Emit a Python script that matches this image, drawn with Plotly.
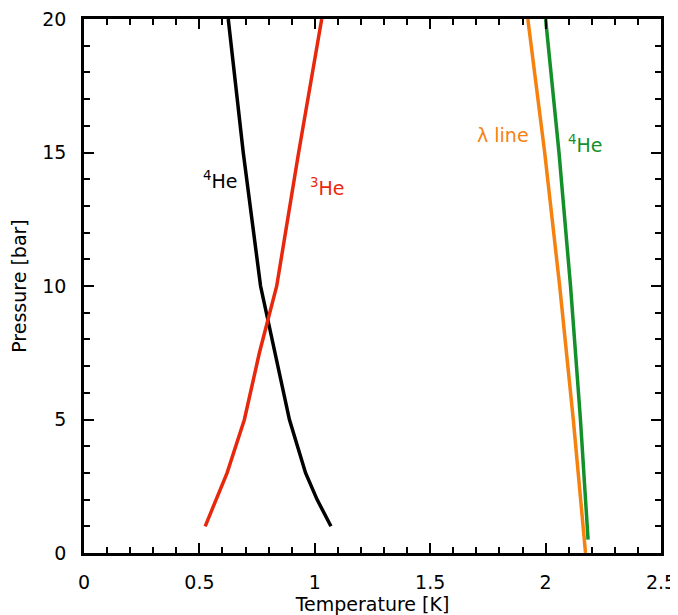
import plotly.graph_objects as go

# 4He melting-related curve (black)
he4_T = [1.07, 1.01, 0.96, 0.89, 0.765, 0.69, 0.625]
he4_P = [1, 2, 3, 5, 10, 15, 20]
# 3He curve (red)
he3_T = [0.525, 0.62, 0.695, 0.76, 0.835, 0.93, 1.03]
he3_P = [1, 3, 5, 7.5, 10, 15, 20]
# lambda line (orange)
lam_T = [2.173, 2.12, 2.061, 1.996, 1.923]
lam_P = [0, 5, 10, 15, 20]
# 4He right curve (green)
he4b_T = [2.184, 2.151, 2.108, 2.058, 2.0]
he4b_P = [0.5, 5, 10, 15, 20]

FONT = "DejaVu Sans"
FS = 19
fig = go.Figure()
fig.add_trace(go.Scatter(x=he4_T, y=he4_P, mode="lines", line=dict(color="black", width=3.5)))
fig.add_trace(go.Scatter(x=he3_T, y=he3_P, mode="lines", line=dict(color="#e8280c", width=3.5)))
fig.add_trace(go.Scatter(x=lam_T, y=lam_P, mode="lines", line=dict(color="#f5820f", width=3.5)))
fig.add_trace(go.Scatter(x=he4b_T, y=he4b_P, mode="lines", line=dict(color="#14902a", width=3.5)))

ann = [
    (0.59, 13.98, "<sup>4</sup>He", "black"),
    (1.053, 13.72, "<sup>3</sup>He", "#e8280c"),
    (1.816, 15.66, "λ line", "#f5820f"),
    (2.17, 15.3, "<sup>4</sup>He", "#14902a"),
]
for x, y, t, c in ann:
    fig.add_annotation(x=x, y=y, text=t, showarrow=False,
                       font=dict(family=FONT, size=FS, color=c))

axis_common = dict(
    showgrid=False, zeroline=False, showline=True, linecolor="black", linewidth=2.5,
    mirror="allticks", ticks="inside", ticklen=10, tickwidth=2, tickcolor="black",
    tickfont=dict(family=FONT, size=FS, color="black"), automargin=False,
    ticklabeloverflow="allow",
)
fig.update_xaxes(range=[0, 2.5], dtick=0.5, tick0=0,
                 minor=dict(dtick=0.1, ticks="inside", ticklen=6, tickwidth=2, tickcolor="black"),
                 title=dict(text="Temperature [K]", font=dict(family=FONT, size=FS, color="black"), standoff=4),
                 ticklabelstandoff=10,
                 **axis_common)
fig.update_yaxes(range=[0, 20], dtick=5, tick0=0,
                 minor=dict(dtick=1, ticks="inside", ticklen=6, tickwidth=2, tickcolor="black"),
                 title=dict(text="Pressure [bar]", font=dict(family=FONT, size=FS, color="black"), standoff=13),
                 ticklabelstandoff=11,
                 **axis_common)
# page body has a small margin, so the figure is sized to the visible area
fig.update_layout(width=670, height=607, showlegend=False,
                  margin=dict(l=76, r=17, t=11, b=62),
                  plot_bgcolor="white", paper_bgcolor="white")
fig.write_html("out.html")
